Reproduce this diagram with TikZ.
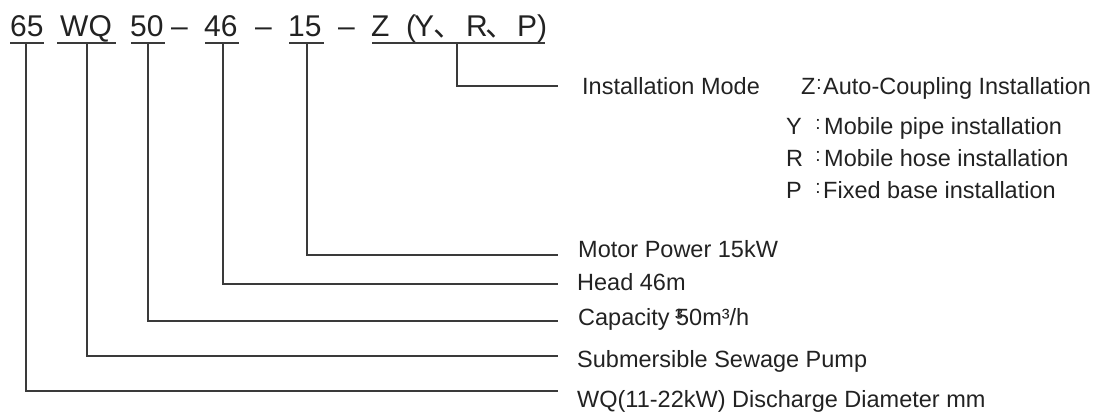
\documentclass[tikz,border=0pt]{standalone}
\usepackage{fontspec}
\setmainfont{Liberation Sans}
\newfontfamily\cjk{Noto Sans CJK SC}
\definecolor{ink}{HTML}{222222}
\definecolor{wire}{HTML}{3A3A3A}
\newcommand{\midcolon}{\makebox[0pt]{\raisebox{4.5pt}{\fontsize{19}{19}\selectfont :}}}
\begin{document}
\begin{tikzpicture}[x=1pt,y=-1pt,
  ttl/.style={anchor=base west,inner sep=0pt,text=ink,font=\fontsize{30}{36}\selectfont},
  lbl/.style={anchor=base west,inner sep=0pt,text=ink,font=\fontsize{23.5}{28}\selectfont},
  col/.style={anchor=base,inner sep=0pt,text=ink},
  wireline/.style={draw=wire,line width=1.4pt},
  uline/.style={draw=wire,line width=1.3pt}]
\useasboundingbox (0,0) rectangle (1095,413);
% title tokens
\node[ttl] (t65) at (10,36) {65};
\node[ttl] (tWQ) at (60,36) {WQ};
\node[ttl] (t50) at (130,36) {50};
\node[ttl] (d1) at (171,36) {–};
\node[ttl] (t46) at (204,36) {46};
\node[ttl] (d2) at (255,36) {–};
\node[ttl] (t15) at (288,36) {15};
\node[ttl] (d3) at (338,36) {–};
\node[ttl] (tZ) at (371,36) {Z};
\node[ttl] (lp) at (406,36) {(};
\node[ttl] (tY) at (414,36) {Y};
\node[ttl,font=\cjk\fontsize{30}{36}\selectfont] (c1) at (433,36) {\makebox[0pt][l]{、}};
\node[ttl] (tR) at (466,36) {R};
\node[ttl,font=\cjk\fontsize{30}{36}\selectfont] (c2) at (485,36) {\makebox[0pt][l]{、}};
\node[ttl] (tP) at (517,36) {P};
\node[ttl] (rp) at (537,36) {)};
% underlines
\draw[uline] (10,43) -- (44,43);
\draw[uline] (57,43) -- (116,43);
\draw[uline] (131,43) -- (165,43);
\draw[uline] (205,43) -- (239,43);
\draw[uline] (289,43) -- (324,43);
\draw[uline] (372,43) -- (545,43);
% connector start and end points
\coordinate (s65) at (26,43);
\coordinate (sWQ) at (87,43);
\coordinate (s50) at (148,43);
\coordinate (s46) at (223,43);
\coordinate (s15) at (307,43);
\coordinate (sZ) at (457,43);
\coordinate (e65) at (558,391);
\coordinate (eWQ) at (558,356);
\coordinate (e50) at (558,321);
\coordinate (e46) at (558,284);
\coordinate (e15) at (558,255);
\coordinate (eZ) at (558,86);
\draw[wireline] (s65) |- (e65);
\draw[wireline] (sWQ) |- (eWQ);
\draw[wireline] (s50) |- (e50);
\draw[wireline] (s46) |- (e46);
\draw[wireline] (s15) |- (e15);
\draw[wireline] (sZ) |- (eZ);
% labels
\node[lbl] (im) at (582,94) {Installation Mode};
\node[lbl] (lZ) at (801,94) {Z};
\node[col] (kZ) at (819,94) {\midcolon};
\node[lbl] (mZ) at (823,94) {Auto-Coupling Installation};
\node[lbl] (lY) at (786,134) {Y};
\node[col] (kY) at (818,134) {\midcolon};
\node[lbl] (mY) at (824,134) {Mobile pipe installation};
\node[lbl] (lR) at (786,166) {R};
\node[col] (kR) at (818,166) {\midcolon};
\node[lbl] (mR) at (824,166) {Mobile hose installation};
\node[lbl] (lP) at (786,198) {P};
\node[col] (kP) at (818,198) {\midcolon};
\node[lbl] (mP) at (823,198) {Fixed base installation};
\node[lbl] (l15) at (578,257) {Motor Power 15kW};
\node[lbl] (l46) at (577,290) {Head 46m};
\node[lbl] (l50) at (578,325) {Capacity \makebox[0pt][l]{\kern-1pt ³}50m³/h};
\node[lbl] (lWQ) at (577,367) {Submersible Sewage Pump};
\node[lbl] (l65) at (577,407) {WQ(11-22kW) Discharge Diameter mm};
\end{tikzpicture}
\end{document}
